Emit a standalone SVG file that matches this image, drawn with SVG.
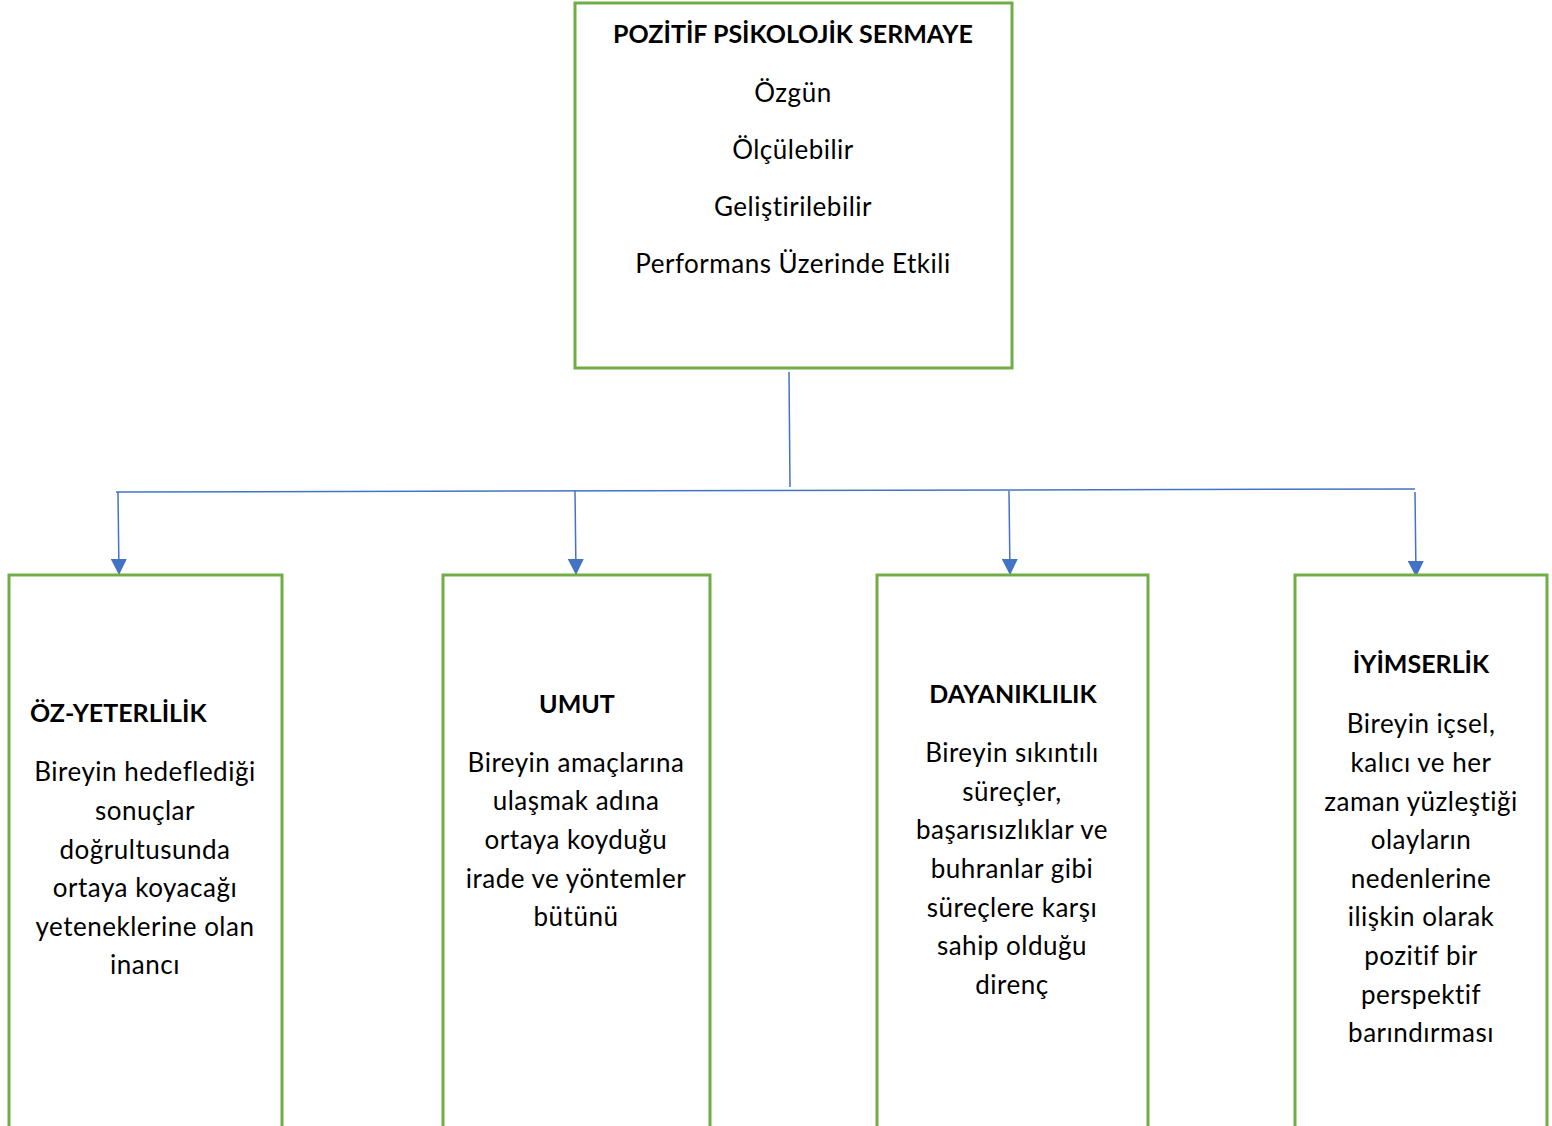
<svg xmlns="http://www.w3.org/2000/svg" width="1552" height="1126" viewBox="0 0 1552 1126">
<style>
.box{fill:#fff;stroke:#70AD47;stroke-width:3}
text{font-family:Lato,"Open Sans","Liberation Sans",sans-serif;font-size:26px;letter-spacing:0.5px;fill:#000;text-anchor:middle}
.b{font-weight:bold;font-size:25px;letter-spacing:0}
.c{stroke:#4472C4;stroke-width:1.5;fill:none}
</style>
<defs>
<marker id="ah2" viewBox="0 0 16 16" refX="16" refY="8" markerWidth="16" markerHeight="16" markerUnits="userSpaceOnUse" orient="auto">
<path d="M0,0 L16,8 L0,16 z" fill="#4472C4"/>
</marker>
</defs>
<g id="connectors">
<line class="c" x1="789" y1="372" x2="790" y2="487"/>
<line class="c" x1="116" y1="492" x2="1415" y2="489"/>
<line class="c" x1="118" y1="492" x2="119" y2="575" marker-end="url(#ah2)"/>
<line class="c" x1="575" y1="491" x2="576" y2="575" marker-end="url(#ah2)"/>
<line class="c" x1="1009" y1="491" x2="1010" y2="575" marker-end="url(#ah2)"/>
<line class="c" x1="1415" y1="492" x2="1416" y2="577" marker-end="url(#ah2)"/>
</g>
<g id="top">
<rect class="box" x="575" y="3" width="437" height="365"/>
<text class="b" x="793" y="43">POZİTİF PSİKOLOJİK SERMAYE</text>
<text x="793" y="102">Özgün</text>
<text x="793" y="159">Ölçülebilir</text>
<text x="793" y="216">Geliştirilebilir</text>
<text x="793" y="273">Performans Üzerinde Etkili</text>
</g>
<g id="oz-yeterlilik">
<rect class="box" x="9" y="575" width="273" height="556"/>
<text class="b" x="30" y="722" style="text-anchor:start">ÖZ-YETERLİLİK</text>
<text x="145" y="781">Bireyin hedeflediği</text>
<text x="145" y="820">sonuçlar</text>
<text x="145" y="859">doğrultusunda</text>
<text x="145" y="897">ortaya koyacağı</text>
<text x="145" y="936">yeteneklerine olan</text>
<text x="145" y="974">inancı</text>
</g>
<g id="umut">
<rect class="box" x="443" y="575" width="267" height="556"/>
<text class="b" x="577" y="713">UMUT</text>
<text x="576" y="772">Bireyin amaçlarına</text>
<text x="576" y="810">ulaşmak adına</text>
<text x="576" y="849">ortaya koyduğu</text>
<text x="576" y="888">irade ve yöntemler</text>
<text x="576" y="926">bütünü</text>
</g>
<g id="dayaniklilik">
<rect class="box" x="877" y="575" width="271" height="556"/>
<text class="b" x="1013" y="703">DAYANIKLILIK</text>
<text x="1012" y="762">Bireyin sıkıntılı</text>
<text x="1012" y="801">süreçler,</text>
<text x="1012" y="839">başarısızlıklar ve</text>
<text x="1012" y="878">buhranlar gibi</text>
<text x="1012" y="917">süreçlere karşı</text>
<text x="1012" y="955">sahip olduğu</text>
<text x="1012" y="994">direnç</text>
</g>
<g id="iyimserlik">
<rect class="box" x="1295" y="575" width="252" height="556"/>
<text class="b" x="1421" y="673">İYİMSERLİK</text>
<text x="1421" y="733">Bireyin içsel,</text>
<text x="1421" y="772">kalıcı ve her</text>
<text x="1421" y="811">zaman yüzleştiği</text>
<text x="1421" y="849">olayların</text>
<text x="1421" y="888">nedenlerine</text>
<text x="1421" y="926">ilişkin olarak</text>
<text x="1421" y="965">pozitif bir</text>
<text x="1421" y="1004">perspektif</text>
<text x="1421" y="1042">barındırması</text>
</g>
</svg>
